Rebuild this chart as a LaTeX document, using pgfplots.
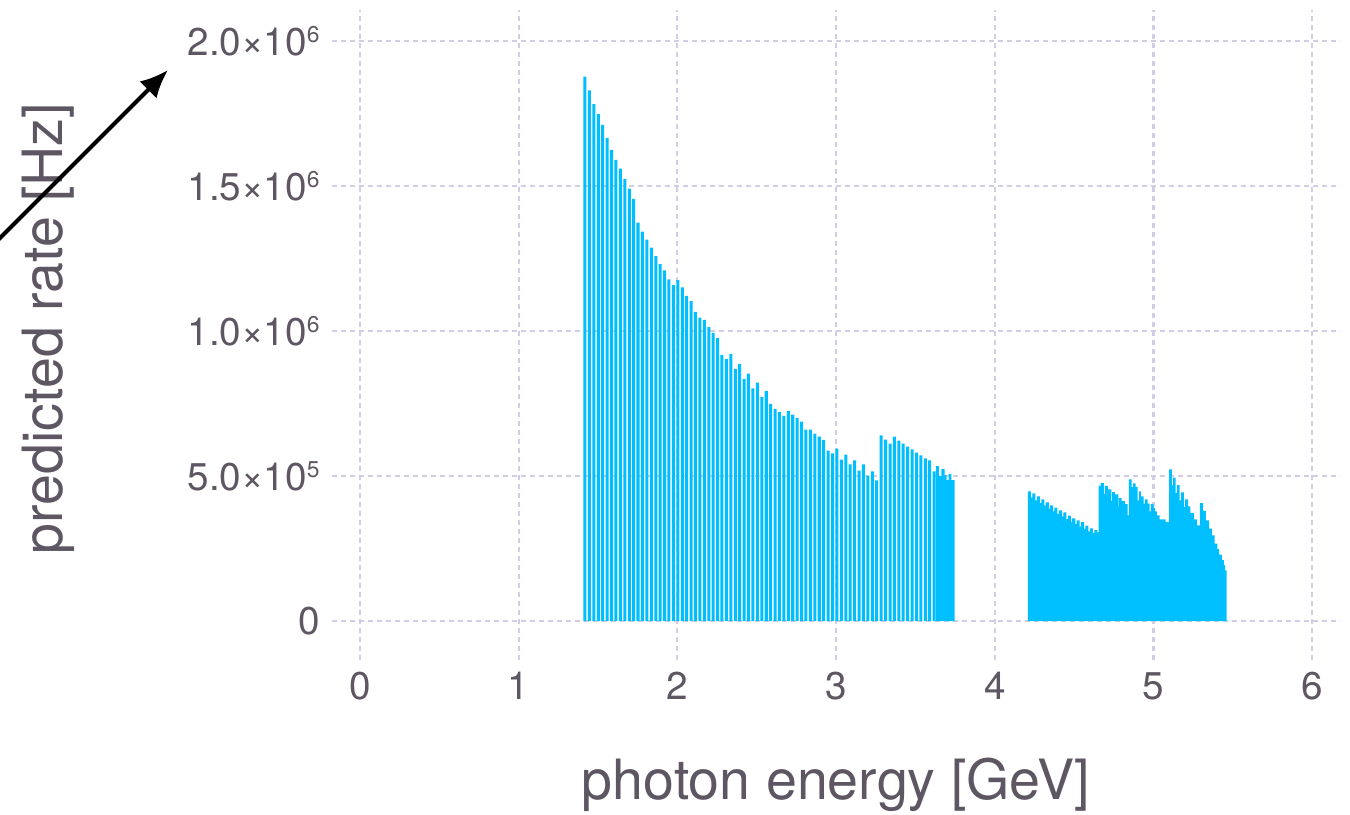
\documentclass[border=0pt]{standalone}
\usepackage{fontspec}
\setmainfont{TeX Gyre Heros}
\usepackage{pgfplots}
\pgfplotsset{compat=1.18}
\usepackage{pgfplotstable}
\usetikzlibrary{arrows.meta}

\definecolor{barc}{RGB}{0,191,255}
\definecolor{txt}{RGB}{94,86,98}
\definecolor{gridc}{RGB}{208,206,228}
\newcommand{\ex}[1]{\raisebox{3.6pt}{\fontsize{6.5}{7}\selectfont #1}}

% tagger bins below the gap (bar centres, GeV / rate, Hz)
\pgfplotstableread{
x y
1.418 1877000
1.446 1830000
1.474 1782000
1.502 1748000
1.529 1711000
1.557 1666000
1.585 1625000
1.613 1590000
1.641 1560000
1.669 1525000
1.697 1491000
1.724 1456000
1.752 1374000
1.780 1343000
1.808 1315000
1.836 1288000
1.864 1258000
1.891 1231000
1.919 1209000
1.947 1178000
1.975 1158000
2.003 1176000
2.031 1151000
2.059 1121000
2.086 1103000
2.114 1066000
2.142 1046000
2.170 1039000
2.198 1014000
2.226 994000
2.253 976000
2.281 918000
2.309 904000
2.337 921000
2.365 870000
2.393 887000
2.421 835000
2.448 853000
2.476 802000
2.504 822000
2.532 773000
2.560 794000
2.588 749000
2.616 732000
2.643 721000
2.671 708000
2.699 725000
2.727 712000
2.755 701000
2.783 688000
2.810 660000
2.838 660000
2.866 646000
2.894 636000
2.922 625000
2.950 588000
2.978 578000
3.005 595000
3.033 557000
3.061 574000
3.089 540000
3.117 554000
3.145 519000
3.172 540000
3.200 502000
3.228 516000
3.256 485000
3.284 640000
3.312 626000
3.340 612000
3.367 636000
3.395 622000
3.423 612000
3.451 602000
3.479 592000
3.507 581000
3.535 571000
3.562 561000
3.590 554000
3.618 516000
}\lowbins

% end of the lower range (interval left edges)
\pgfplotstableread{
x y
3.629 534000
3.647 500000
3.663 524000
3.684 503000
3.697 486000
3.709 507000
3.726 486000
3.747 486000
}\lowtail

% upper range (interval left edges)
\pgfplotstableread{
x y
4.209 447000
4.228 427000
4.237 440000
4.256 416000
4.265 430000
4.284 407000
4.293 420000
4.312 398000
4.321 409000
4.340 388000
4.349 399000
4.368 378000
4.376 391000
4.395 370000
4.404 382000
4.423 361000
4.432 375000
4.451 352000
4.460 364000
4.479 343000
4.488 354000
4.507 334000
4.516 347000
4.535 326000
4.543 341000
4.562 318000
4.571 329000
4.590 309000
4.599 320000
4.618 303000
4.627 314000
4.646 306000
4.655 466000
4.667 476000
4.688 439000
4.694 466000
4.713 454000
4.734 414000
4.740 445000
4.757 437000
4.778 396000
4.782 424000
4.799 414000
4.820 403000
4.837 365000
4.845 489000
4.862 462000
4.871 475000
4.888 462000
4.900 416000
4.909 447000
4.921 430000
4.938 405000
4.946 420000
4.963 405000
4.976 378000
4.984 403000
5.001 390000
5.009 378000
5.022 365000
5.039 351000
5.077 342000
5.098 523000
5.115 469000
5.123 495000
5.140 441000
5.148 469000
5.165 416000
5.174 444000
5.191 393000
5.199 420000
5.216 396000
5.233 373000
5.254 351000
5.275 330000
5.292 407000
5.313 380000
5.330 347000
5.351 319000
5.368 296000
5.385 267000
5.402 248000
5.414 229000
5.431 210000
5.444 193000
5.452 175000
5.460 175000
}\highbins

\begin{document}
\begin{tikzpicture}
\useasboundingbox (0,0) rectangle (13.5,8.15);
\clip (0,0) rectangle (13.5,8.15);
\begin{axis}[
    at={(3.32cm,1.55cm)}, anchor=south west,
    scale only axis,
    width=10.08cm, height=6.5cm,
    xmin=-0.176, xmax=6.175,
    ymin=-134000, ymax=2107000,
    axis line style={draw=none},
    major tick length=0pt,
    grid=major,
    major grid style={gridc, line width=0.6pt, dash pattern=on 0.5mm off 0.4mm},
    xtick={0,1,2,3,4,5,6},
    ytick={0,500000,1000000,1500000,2000000},
    yticklabels={0, 5.0×10\ex{5}, 1.0×10\ex{6}, 1.5×10\ex{6}, 2.0×10\ex{6}},
    scaled y ticks=false,
    /pgf/number format/assume math mode=true,
    tick label style={font=\fontsize{11}{13}\selectfont, text=txt},
    xlabel={photon energy [GeV]},
    ylabel={predicted rate [Hz]},
    label style={font=\fontsize{15.8}{19}\selectfont, text=txt},
    xlabel style={at={(axis description cs:0.5,-0.215)}, anchor=base},
    ylabel style={at={(axis description cs:-0.267,0.51)}, anchor=base},
]
\addplot[ybar, bar width=0.019, bar shift=0pt, fill=barc, draw=none] table {\lowbins};
\addplot[ybar interval, fill=barc, draw=none] table {\lowtail};
\addplot[ybar interval, fill=barc, draw=none] table {\highbins};
\end{axis}
\draw[line width=1.15pt, -{Latex[length=2.8mm, width=2.4mm]}] (-0.3,5.47) -- (1.68,7.45);
\end{tikzpicture}
\end{document}
